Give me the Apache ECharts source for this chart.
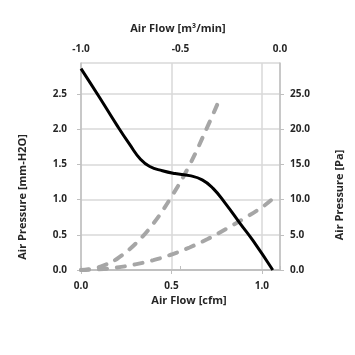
<!DOCTYPE html>
<html><head><meta charset="utf-8">
<script src="https://cdn.jsdelivr.net/npm/echarts@6/dist/echarts.min.js"></script>
<style>html,body{margin:0;padding:0;background:#fff}#c{width:355px;height:355px}</style>
</head><body><div id="c"></div>
<script>
// Fan curve (left axis, mm-H2O) vs air flow (cfm)
const fanFlow = [0, 0.1, 0.2, 0.27, 0.33, 0.38, 0.45, 0.52, 0.6, 0.67, 0.73, 0.8, 0.88, 0.95, 1.06];
const fanPressure = [2.86, 2.46, 2.05, 1.78, 1.57, 1.47, 1.41, 1.37, 1.34, 1.28, 1.16, 0.94, 0.66, 0.42, 0.0];
// System impedance curves (right axis, Pa)
const sysAFlow = [0, 0.07, 0.13, 0.2, 0.3, 0.4, 0.5, 0.6, 0.7, 0.77];
const sysAPressure = [0, 0.2, 0.7, 1.6, 3.7, 6.6, 10.4, 14.9, 20.4, 24.5];
const sysBFlow = [0, 0.1, 0.2, 0.3, 0.4, 0.5, 0.6, 0.7, 0.8, 0.9, 1.0, 1.05];
const sysBPressure = [0, 0.1, 0.35, 0.8, 1.4, 2.2, 3.2, 4.4, 5.8, 7.3, 8.9, 9.9];

const FONT = 'Open Sans';
const AX = '#bfbfbf', GRID = '#d9d9d9', TXT = '#262626';
const zip = (a, b) => a.map((v, i) => [v, b[i]]);
const lbl = (m, fmt) => ({ color: TXT, fontFamily: FONT, fontWeight: 'bold', fontSize: 10, margin: m, formatter: fmt });
const nameFont = 'bold 11px "Open Sans"';

const chart = echarts.init(document.getElementById('c'));
chart.setOption({
  animation: false,
  grid: { left: 81, right: 75, top: 63, bottom: 85 },
  xAxis: [
    { type: 'value', position: 'bottom', min: 0, max: 1.1, interval: 0.5,
      axisLine: { show: true, lineStyle: { color: AX, width: 1.5 } },
      axisTick: { show: true, length: 4, lineStyle: { color: AX } },
      splitLine: { show: true, lineStyle: { color: GRID, width: 1.5 } },
      axisLabel: Object.assign(lbl(11, v => v.toFixed(1)), { showMaxLabel: false }) },
    { type: 'value', position: 'top', min: -1, max: 0, interval: 0.5,
      axisLine: { show: true, lineStyle: { color: AX, width: 1.5 } },
      axisTick: { show: true, length: 4, lineStyle: { color: AX } },
      splitLine: { show: false },
      axisLabel: lbl(9, v => v.toFixed(1)) }
  ],
  yAxis: [
    { type: 'value', position: 'left', min: 0, max: 2.94, interval: 0.5,
      axisLine: { show: true, lineStyle: { color: AX, width: 1.5 } },
      axisTick: { show: true, length: 4, lineStyle: { color: AX } },
      splitLine: { show: true, lineStyle: { color: GRID, width: 1.5 } },
      axisLabel: Object.assign(lbl(14, v => v.toFixed(1)), { showMaxLabel: false }) },
    { type: 'value', position: 'right', min: 0, max: 29.4, interval: 5,
      axisLine: { show: true, lineStyle: { color: AX, width: 1.5 } },
      axisTick: { show: true, length: 4, lineStyle: { color: AX } },
      splitLine: { show: false },
      axisLabel: Object.assign(lbl(10, v => v.toFixed(1)), { showMaxLabel: false }) }
  ],
  graphic: [
    { type: 'text', x: 178, y: 29, style: { text: 'Air Flow [m³/min]', fill: TXT, font: nameFont, align: 'center', verticalAlign: 'middle' } },
    { type: 'text', x: 189, y: 301, style: { text: 'Air Flow [cfm]', fill: TXT, font: nameFont, align: 'center', verticalAlign: 'middle' } },
    { type: 'text', x: 23, y: 197, rotation: Math.PI / 2, style: { text: 'Air Pressure [mm-H2O]', fill: TXT, font: nameFont, align: 'center', verticalAlign: 'middle' } },
    { type: 'text', x: 340, y: 195, rotation: Math.PI / 2, style: { text: 'Air Pressure [Pa]', fill: TXT, font: nameFont, align: 'center', verticalAlign: 'middle' } }
  ],
  series: [
    { type: 'line', xAxisIndex: 0, yAxisIndex: 1, data: zip(sysAFlow, sysAPressure), smooth: 0.4, symbol: 'none',
      lineStyle: { color: '#a6a6a6', width: 4, type: [8, 10], cap: 'round' } },
    { type: 'line', xAxisIndex: 0, yAxisIndex: 1, data: zip(sysBFlow, sysBPressure), smooth: 0.4, symbol: 'none',
      lineStyle: { color: '#a6a6a6', width: 4, type: [8, 10], cap: 'round' } },
    { type: 'line', xAxisIndex: 0, yAxisIndex: 0, data: zip(fanFlow, fanPressure), smooth: 0.5, symbol: 'none',
      lineStyle: { color: '#000', width: 3 } }
  ]
});
</script></body></html>
